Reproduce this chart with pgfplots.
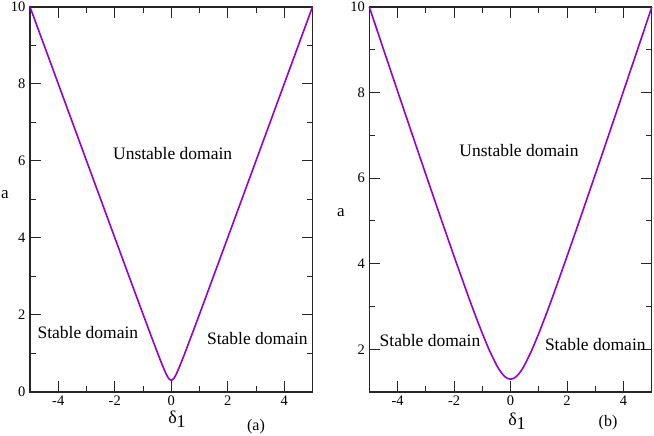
\documentclass[border=0pt]{standalone}
\usepackage{fontspec}
\setmainfont{Liberation Serif}
\usepackage{pgfplots}
\pgfplotsset{compat=1.18}
\definecolor{grviolet}{RGB}{148,0,211}
\pgfplotstableread{
x a
-5 10.004
-4.5 9.005
-4 8.006
-3.5 7.006
-3 6.007
-2.5 5.009
-2 4.011
-1.5 3.015
-1 2.022
-0.75 1.530
-0.5 1.044
-0.4 0.854
-0.3 0.671
-0.2 0.500
-0.1 0.361
0 0.300
0.1 0.361
0.2 0.500
0.3 0.671
0.4 0.854
0.5 1.044
0.75 1.530
1 2.022
1.5 3.015
2 4.011
2.5 5.009
3 6.007
3.5 7.006
4 8.006
4.5 9.005
5 10.004
}\dataA
\pgfplotstableread{
x a
-5 10.0
-4.5 9.015
-4 8.036
-3.5 7.059
-3 6.088
-2.5 5.124
-2 4.173
-1.5 3.245
-1.25 2.798
-1 2.371
-0.75 1.975
-0.5 1.635
-0.4 1.523
-0.3 1.430
-0.2 1.359
-0.1 1.315
0 1.300
0.1 1.315
0.2 1.359
0.3 1.430
0.4 1.523
0.5 1.635
0.75 1.975
1 2.371
1.25 2.798
1.5 3.245
2 4.173
2.5 5.124
3 6.088
3.5 7.059
4 8.036
4.5 9.015
5 10.0
}\dataB
\pgfplotsset{
  panel/.style={
    scale only axis,
    width=282.5pt, height=385pt,
    anchor=south west,
    xmin=-5, xmax=5,
    xtick={-4,-2,0,2,4},
    minor xtick={-5,-3,-1,1,3,5},
    tick align=inside,
    major tick length=11pt,
    minor tick length=6pt,
    axis line style={black!85, line width=1.2pt},
    every tick/.style={black!85, line width=1pt},
    tick label style={font=\fontsize{14.5}{14.5}\selectfont},
    /pgf/number format/assume math mode=true,
    xticklabel style={yshift=0pt},
    yticklabel style={xshift=-1pt},
    clip=false,
  }
}
\begin{document}
\begin{tikzpicture}[x=1pt,y=1pt]
\useasboundingbox (0,0) rectangle (654,436);
\begin{axis}[panel, at={(30pt,44pt)},
  ymin=0, ymax=10,
  ytick={0,2,4,6,8,10},
  minor ytick={1,3,5,7,9}]
\addplot[grviolet, line width=1.6pt, smooth, tension=0.3] table[x=x,y=a] {\dataA};
\node[font=\fontsize{17.5}{17.5}\selectfont] at (axis cs:0.05,6.2) {Unstable domain};
\node[font=\fontsize{17.5}{17.5}\selectfont] at (axis cs:-2.95,1.55) {Stable domain};
\node[font=\fontsize{17.5}{17.5}\selectfont] at (axis cs:3.05,1.38) {Stable domain};
\end{axis}
\begin{axis}[panel, at={(369.3pt,44pt)},
  ymin=1, ymax=10,
  ytick={2,4,6,8,10},
  minor ytick={1,3,5,7,9}]
\addplot[grviolet, line width=1.6pt, smooth, tension=0.3] table[x=x,y=a] {\dataB};
\node[font=\fontsize{17.5}{17.5}\selectfont] at (axis cs:0.3,6.65) {Unstable domain};
\node[font=\fontsize{17.5}{17.5}\selectfont] at (axis cs:-2.85,2.2) {Stable domain};
\node[font=\fontsize{17.5}{17.5}\selectfont] at (axis cs:3.0,2.1) {Stable domain};
\end{axis}
% axis labels
\node[font=\fontsize{17}{17}\selectfont] at (5,241) {a};
\node[font=\fontsize{17}{17}\selectfont] at (341,223) {a};
\node[font=\fontsize{18}{18}\selectfont] at (177,17) {δ\raisebox{-0.45ex}{1}};
\node[font=\fontsize{18}{18}\selectfont] at (517,15) {δ\raisebox{-0.45ex}{1}};
\node[font=\fontsize{16}{16}\selectfont] at (256,9) {(a)};
\node[font=\fontsize{16}{16}\selectfont] at (608,13) {(b)};
\end{tikzpicture}
\end{document}
